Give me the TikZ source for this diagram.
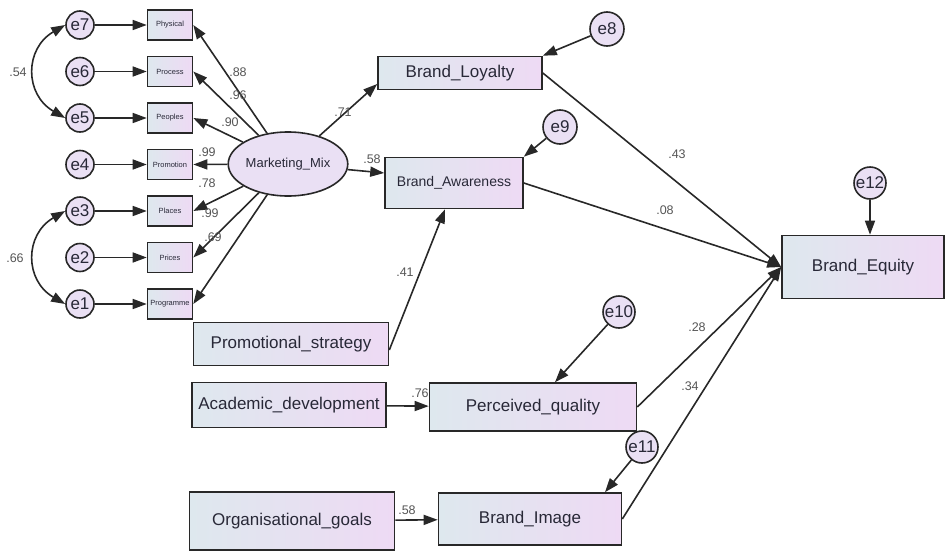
\documentclass[tikz,border=0pt]{standalone}
\usepackage{fontspec}
\setmainfont{Liberation Sans}
\usetikzlibrary{positioning,shapes.geometric,arrows.meta}
\definecolor{boxleft}{RGB}{222,232,238}
\definecolor{boxright}{RGB}{238,218,244}
\definecolor{latfill}{RGB}{234,224,244}
\definecolor{edgegray}{RGB}{40,40,40}
\definecolor{coefgray}{RGB}{85,85,85}
\definecolor{txt}{RGB}{40,40,55}

\begin{document}
\begin{tikzpicture}[x=1pt,y=-1pt,on grid,line width=1.6pt,
    >={Triangle[length=14pt,width=10pt]},every edge/.style={draw=edgegray}]
    \tikzset{obs/.style={draw=edgegray,rectangle,left color=boxleft,right color=boxright,text=txt,inner sep=0pt,font=\fontsize{17}{17}\selectfont},
      item/.style={obs,minimum width=45pt,minimum height=30pt,font=\fontsize{7.5}{7.5}\selectfont},
      err/.style={draw=edgegray,circle,fill=latfill,text=txt,inner sep=0pt,minimum size=28pt,font=\fontsize{17}{17}\selectfont},
      coef/.style={text=coefgray,inner sep=0pt,font=\fontsize{12.5}{12.5}\selectfont}}
    \useasboundingbox (0,0) rectangle (946,552);
    % indicators of the marketing mix
    \node[err] (e7) at (80,25) {e7};
    \node[err] (e6) [below=46.5pt of e7] {e6};
    \node[err] (e5) [below=46.5pt of e6] {e5};
    \node[err] (e4) [below=46.5pt of e5] {e4};
    \node[err] (e3) [below=46.5pt of e4] {e3};
    \node[err] (e2) [below=46.5pt of e3] {e2};
    \node[err] (e1) [below=46.5pt of e2] {e1};
    \node[item] (b7) [right=90pt of e7] {Physical};
    \node[item] (b6) [right=90pt of e6] {Process};
    \node[item] (b5) [right=90pt of e5] {Peoples};
    \node[item] (b4) [right=90pt of e4] {Promotion};
    \node[item] (b3) [right=90pt of e3] {Places};
    \node[item] (b2) [right=90pt of e2] {Prices};
    \node[item] (b1) [right=90pt of e1] {Programme};
    \node[ellipse,draw=edgegray,fill=latfill,minimum width=92pt,minimum height=64pt,inner sep=0pt,text=txt,
      font=\fontsize{13}{13}\selectfont] (mm) at (288,164) {Marketing\_Mix};
    % brand constructs
    \node[obs,minimum width=164pt,minimum height=33pt] (bl) at (460,73) {Brand\_Loyalty};
    \node[err,minimum size=34pt] (e8) at (607,29) {e8};
    \node[obs,minimum width=138pt,minimum height=51pt,font=\fontsize{14}{14}\selectfont] (ba) at (454,183) {Brand\_Awareness};
    \node[err,minimum size=34pt] (e9) at (560,127) {e9};
    \node[obs,minimum width=162pt,minimum height=63pt] (be) at (863,267) {Brand\_Equity};
    \node[err,minimum size=32pt] (e12) at (870,183) {e12};
    \node[obs,minimum width=195pt,minimum height=43pt] (ps) at (291,344) {Promotional\_strategy};
    \node[obs,minimum width=194pt,minimum height=45pt] (ad) at (289,405) {Academic\_development};
    \node[obs,minimum width=207pt,minimum height=48pt] (pq) at (533,407) {Perceived\_quality};
    \node[err,minimum size=32pt] (e10) at (619,312) {e10};
    \node[err,minimum size=32pt] (e11) at (642,447) {e11};
    \node[obs,minimum width=205pt,minimum height=58pt] (og) at (292,521) {Organisational\_goals};
    \node[obs,minimum width=183pt,minimum height=52pt] (bi) at (530,519) {Brand\_Image};
    \path[->]
    (e7) edge (b7)
    (e6) edge (b6)
    (e5) edge (b5)
    (e4) edge (b4)
    (e3) edge (b3)
    (e2) edge (b2)
    (e1) edge (b1)
    (mm)
    edge (b7.east)
    edge (b6.east)
    edge (b5.east)
    edge (b4.east)
    edge (b3.east)
    edge (b2.east)
    edge (b1.east)
    edge ([yshift=-11pt]bl.west)
    edge ([yshift=10pt]ba.west)
    (e8) edge (bl.north east)
    (e9) edge (ba.north east)
    ([yshift=-6pt]ps.east) edge ([xshift=-9pt]ba.south)
    (bl.east) edge (be.west)
    (ba.east) edge (be.west)
    (pq.east) edge (be.west)
    (bi.east) edge (be.west)
    (e10) edge ([xshift=22pt]pq.north)
    (e11) edge ([xshift=75pt]bi.north)
    (e12) edge ([xshift=7pt]be.north)
    (ad) edge (pq)
    (og) edge (bi)
    ;
    \draw[<->,edgegray] (e7.west) to[out=210,in=150,looseness=1.3] (e5.west);
    \draw[<->,edgegray] (e3.west) to[out=210,in=150,looseness=1.3] (e1.west);
    % estimates
    \node[coef] (c54) at (18,72) {.54};
    \node[coef] (c66) at (15,258) {.66};
    \node[coef] (c88) at (238,72) {.88};
    \node[coef] (c96) at (238,95) {.96};
    \node[coef] (c90) at (230,122) {.90};
    \node[coef] (c99a) at (207,152) {.99};
    \node[coef] (c78) at (207,183) {.78};
    \node[coef] (c99b) at (210,213) {.99};
    \node[coef] (c69) at (213,237) {.69};
    \node[coef] (c71) at (343,112) {.71};
    \node[coef] (c58a) at (372,159) {.58};
    \node[coef] (c41) at (405,272) {.41};
    \node[coef] (c43) at (677,154) {.43};
    \node[coef] (c08) at (665,210) {.08};
    \node[coef] (c28) at (697,327) {.28};
    \node[coef] (c34) at (690,386) {.34};
    \node[coef] (c76) at (420,393) {.76};
    \node[coef] (c58b) at (407,510) {.58};
\end{tikzpicture}
\end{document}
